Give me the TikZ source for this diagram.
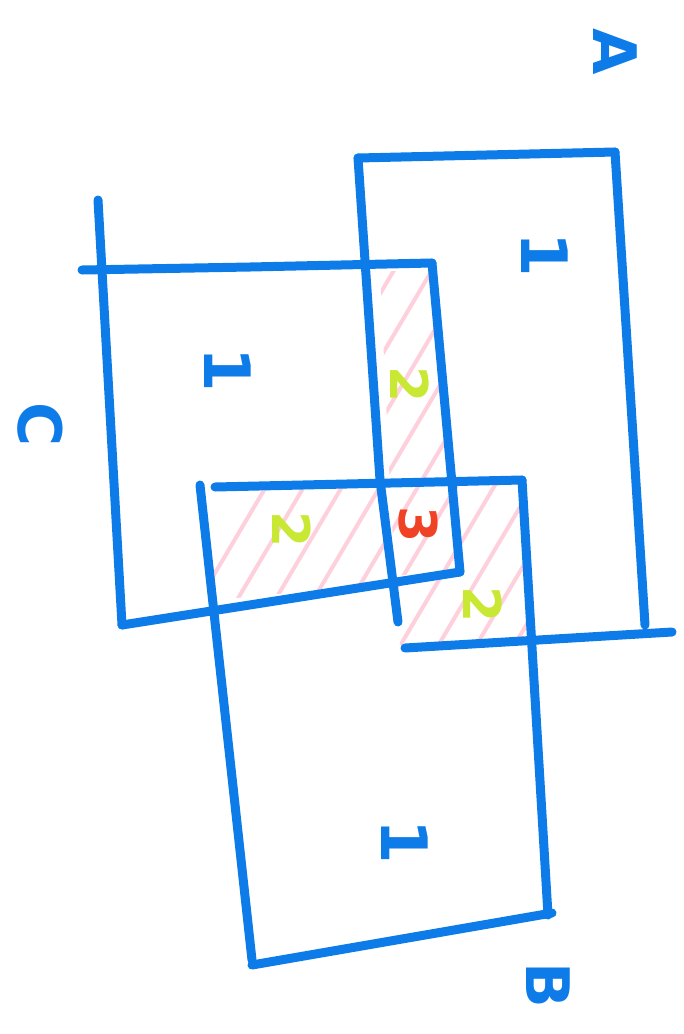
\documentclass[tikz,border=0pt]{standalone}
\usepackage{fontspec}
\setsansfont{DejaVu Sans}
\usetikzlibrary{positioning}
\definecolor{penblue}{RGB}{14,124,232}
\definecolor{hatchpink}{RGB}{253,208,220}
\definecolor{lime}{RGB}{200,232,52}
\definecolor{tomato}{RGB}{240,66,36}
\tikzset{
  pen/.style={draw=penblue,line width=9pt,line cap=round,line join=round},
  hatch/.style={draw=hatchpink,line width=4pt,line cap=round},
  lett/.style={text=penblue,rotate=-90,font=\fontsize{60}{60}\selectfont\sffamily\bfseries,inner sep=0pt},
  one/.style={text=penblue,rotate=-90,font=\fontsize{64}{64}\selectfont\sffamily\bfseries,inner sep=0pt},
  cnt/.style={rotate=-90,font=\fontsize{52}{52}\selectfont\sffamily\bfseries,inner sep=0pt},
}

\begin{document}
\begin{tikzpicture}[x=1pt,y=-1pt]
  \useasboundingbox (0,0) rectangle (684,1034);
  % pink hatching in the overlaps
  \begin{scope}
    \clip (380,272) -- (432,268) -- (448,482) -- (390,487) -- cycle
          (212,492) -- (388,487) -- (394,583) -- (215,600) -- cycle
          (390,487) -- (452,483) -- (458,570) -- (395,576) -- cycle
          (455,485) -- (524,482) -- (530,640) -- (400,645) -- (396,580) -- (458,572) -- cycle;
    \foreach \x in {140,178,...,560}
      \draw[hatch] (\x,700) -- ++(260,-440);
  \end{scope}
  % rectangle A
  \draw[pen] (358,158) -- (615,152);
  \draw[pen] (358,158) -- (380,480) -- (398,622);
  \draw[pen] (615,152) -- (645,625);
  \draw[pen] (405,648) -- (672,632);
  % rectangle C
  \draw[pen] (98,200) -- (122,625);
  \draw[pen] (82,270) -- (250,267) -- (432,263);
  \draw[pen] (432,263) -- (460,572);
  \draw[pen] (122,625) -- (460,572);
  % rectangle B
  \draw[pen] (215,487) -- (522,480);
  \draw[pen] (200,485) -- (252,960);
  \draw[pen] (522,480) -- (548,915);
  \draw[pen] (252,965) -- (552,913);
  % labels
  \node[lett] (labA) at (615,52) {A};
  \node[lett] (labB) at (548,985) {B};
  \node[lett] (labC) at (40,425) {C};
  \node[one] (oneA) at (545,255) {1};
  \node[one] (oneC) at (228,370) {1};
  \node[one] (oneB) at (405,842) {1};
  \node[cnt,text=lime] (twoAC) at (410,385) {2};
  \node[cnt,text=lime] (twoBC) at (292,530) {2};
  \node[cnt,text=lime] (twoAB) at (483,605) {2};
  \node[cnt,text=tomato] (three) at (418,525) {3};
\end{tikzpicture}
\end{document}
